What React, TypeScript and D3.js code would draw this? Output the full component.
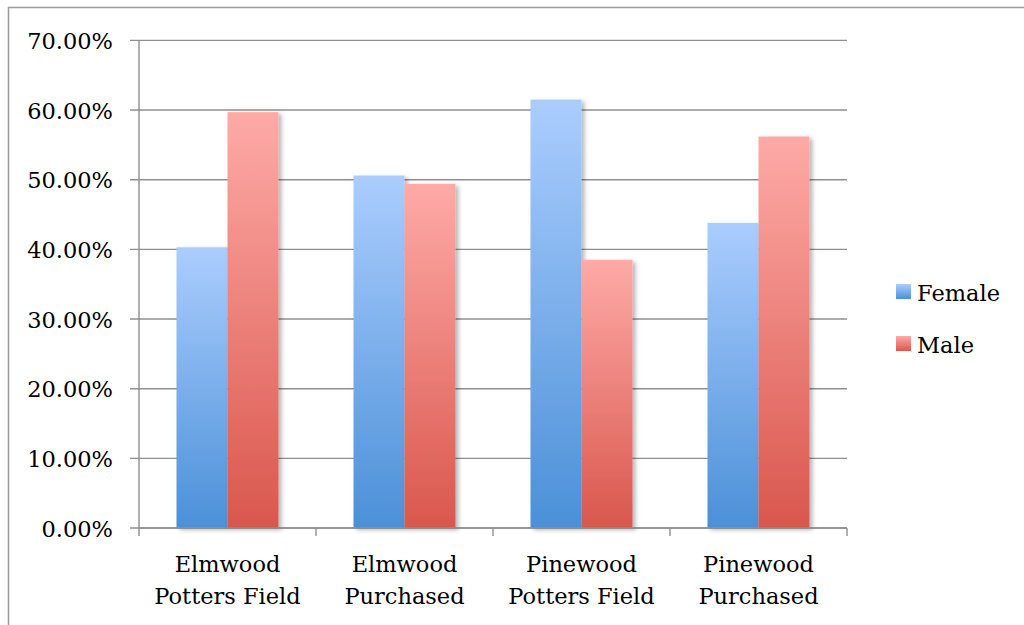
import React from "react";
import * as d3 from "d3";

const categories = [
  ["Elmwood", "Potters Field"],
  ["Elmwood", "Purchased"],
  ["Pinewood", "Potters Field"],
  ["Pinewood", "Purchased"],
];
const seriesNames = ["Female", "Male"];
const female = [0.403, 0.506, 0.615, 0.438];
const male = [0.597, 0.494, 0.385, 0.562];
const yTicks = [0, 0.1, 0.2, 0.3, 0.4, 0.5, 0.6, 0.7];

const W = 1024;
const H = 625;
const margin = { left: 139, right: 177, top: 40.4, bottom: 97 };
const FONT = "'DejaVu Serif', serif";
const FS = 22.5;

export default function App() {
  const x0 = d3
    .scaleBand<number>()
    .domain(categories.map((_, i) => i))
    .range([margin.left, W - margin.right])
    .paddingInner(0)
    .paddingOuter(0);
  const groupPad = (1 - 102 / 177) / 2;
  const x1 = d3
    .scaleBand<number>()
    .domain([0, 1])
    .range([x0.bandwidth() * groupPad, x0.bandwidth() * (1 - groupPad)])
    .padding(0);
  const y = d3.scaleLinear().domain([0, 0.7]).range([H - margin.bottom, margin.top]);
  const fmt = d3.format(".2%");
  const values = [female, male];
  const gradIds = ["gradF", "gradM"];
  const x0Right = W - margin.right;

  return (
    <svg width={W} height={H} style={{ position: "absolute", left: 0, top: 0 }}>
      <defs>
        <linearGradient id="gradF" x1="0" y1="0" x2="0" y2="1">
          <stop offset="0" stopColor="#abcdfe" />
          <stop offset="1" stopColor="#4b90d8" />
        </linearGradient>
        <linearGradient id="gradM" x1="0" y1="0" x2="0" y2="1">
          <stop offset="0" stopColor="#feaaa7" />
          <stop offset="1" stopColor="#d9574d" />
        </linearGradient>
        <filter id="shadow" x="-20%" y="-10%" width="150%" height="130%">
          <feDropShadow dx="3" dy="2" stdDeviation="2.2" floodColor="#000" floodOpacity="0.28" />
        </filter>
      </defs>
      <rect x={0} y={0} width={W} height={H} fill="#fff" />
      {/* chart frame: top and left edges */}
      <line x1={8} y1={7.5} x2={W} y2={7.5} stroke="#9a9a9a" strokeWidth={1.5} />
      <line x1={8.5} y1={7} x2={8.5} y2={H} stroke="#9a9a9a" strokeWidth={1.5} />

      {/* gridlines and y tick labels */}
      {yTicks.map((t) => (
        <g key={t}>
          <line
            x1={margin.left - 9}
            x2={x0Right}
            y1={y(t)}
            y2={y(t)}
            stroke="#8f8f8f"
            strokeWidth={1.4}
          />
          <text
            x={113}
            y={y(t) + 8.5}
            textAnchor="end"
            fontFamily={FONT}
            fontSize={FS}
            fill="#000"
          >
            {fmt(t)}
          </text>
        </g>
      ))}
      {/* y axis */}
      <line
        x1={margin.left}
        x2={margin.left}
        y1={y(0.7)}
        y2={y(0)}
        stroke="#8f8f8f"
        strokeWidth={1.4}
      />

      {/* bars */}
      {categories.map((_, i) => (
        <g key={i} transform={`translate(${x0(i)},0)`}>
          {values.map((vals, s) => (
            <rect
              key={s}
              x={x1(s)}
              y={y(vals[i])}
              width={x1.bandwidth()}
              height={y(0) - y(vals[i])}
              fill={`url(#${gradIds[s]})`}
              filter="url(#shadow)"
            />
          ))}
        </g>
      ))}

      {/* x axis with category ticks */}
      <line x1={margin.left} x2={x0Right} y1={y(0)} y2={y(0)} stroke="#8f8f8f" strokeWidth={1.4} />
      {d3.range(categories.length + 1).map((i) => {
        const xx = margin.left + i * x0.bandwidth();
        return (
          <line key={i} x1={xx} x2={xx} y1={y(0)} y2={y(0) + 8} stroke="#8f8f8f" strokeWidth={1.4} />
        );
      })}
      {categories.map((lines, i) => (
        <text
          key={i}
          x={(x0(i) as number) + x0.bandwidth() / 2}
          textAnchor="middle"
          fontFamily={FONT}
          fontSize={FS}
          fill="#000"
        >
          {lines.map((l, k) => (
            <tspan key={k} x={(x0(i) as number) + x0.bandwidth() / 2} y={571.5 + k * 32}>
              {l}
            </tspan>
          ))}
        </text>
      ))}

      {/* legend */}
      {seriesNames.map((name, s) => (
        <g key={name} transform={`translate(896,${284 + s * 52})`}>
          <rect x={0} y={0} width={15} height={15} fill={`url(#${gradIds[s]})`} />
          <text x={21} y={17} fontFamily={FONT} fontSize={FS} fill="#000">
            {name}
          </text>
        </g>
      ))}
    </svg>
  );
}
